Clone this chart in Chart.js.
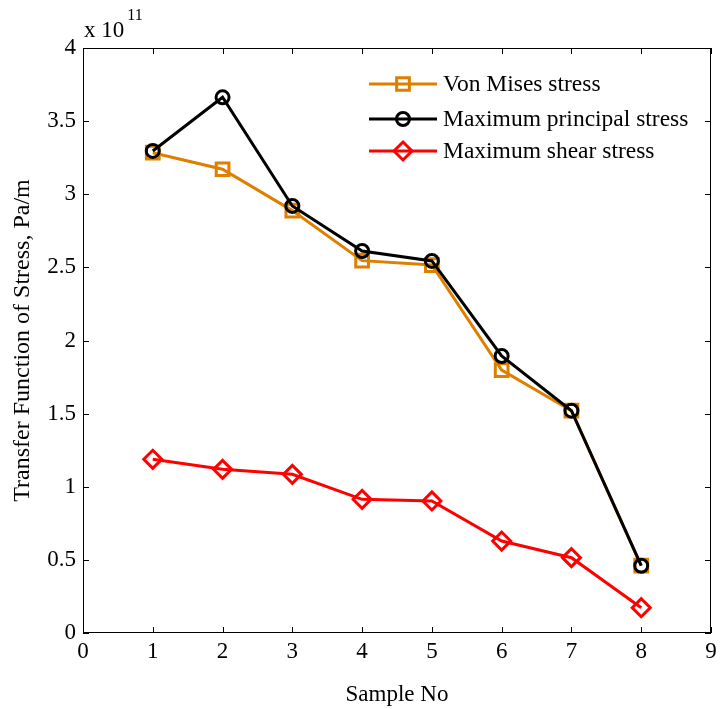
<!DOCTYPE html>
<html>
<head>
<meta charset="utf-8">
<script src="https://cdn.jsdelivr.net/npm/chart.js@4/dist/chart.umd.min.js"></script>
<style>
  html, body { margin: 0; padding: 0; background: #fff; }
  #wrap { width: 723px; height: 709px; }
</style>
</head>
<body>
<div id="wrap"><canvas id="c" width="723" height="709"></canvas></div>
<script>
// Sample numbers and transfer-function values (units of 1e11 Pa/m)
const sampleNo = [1, 2, 3, 4, 5, 6, 7, 8];
const vonMises = [3.284, 3.171, 2.888, 2.546, 2.516, 1.798, 1.52, 0.46];
const maxPrincipal = [3.296, 3.663, 2.92, 2.612, 2.544, 1.894, 1.52, 0.46];
const maxShear = [1.188, 1.119, 1.085, 0.914, 0.903, 0.629, 0.515, 0.173];

const seriesNames = ['Von Mises stress', 'Maximum principal stress', 'Maximum shear stress'];
const xTickLabels = ['0', '1', '2', '3', '4', '5', '6', '7', '8', '9'];
const yTickLabels = ['0', '0.5', '1', '1.5', '2', '2.5', '3', '3.5', '4'];

const FONT = 'Liberation Serif';
const ORANGE = '#DE7F00';

const toPoints = (ys) => sampleNo.map((x, i) => ({ x: x, y: ys[i] }));

function drawMarker(ctx, style, x, y, r, color) {
  ctx.save();
  ctx.strokeStyle = color;
  ctx.lineWidth = 3;
  ctx.beginPath();
  if (style === 'rect') {
    const h = Math.SQRT1_2 * r;
    ctx.rect(x - h, y - h, 2 * h, 2 * h);
  } else if (style === 'rectRot') {
    ctx.moveTo(x, y - r);
    ctx.lineTo(x + r, y);
    ctx.lineTo(x, y + r);
    ctx.lineTo(x - r, y);
    ctx.closePath();
  } else {
    ctx.arc(x, y, r, 0, Math.PI * 2);
  }
  ctx.stroke();
  ctx.restore();
}

// Boxed axes with inward ticks, exponent note and in-plot legend
const framePlugin = {
  id: 'frame',
  afterDraw(chart) {
    const { ctx, chartArea: a, scales } = chart;
    ctx.save();
    ctx.strokeStyle = '#000';
    ctx.lineWidth = 1;
    ctx.strokeRect(a.left + 0.5, a.top + 0.5, a.right - a.left - 1, a.bottom - a.top - 1);
    const tl = 6;
    ctx.beginPath();
    scales.x.ticks.forEach(t => {
      const px = Math.round(scales.x.getPixelForValue(t.value)) + 0.5;
      ctx.moveTo(px, a.bottom); ctx.lineTo(px, a.bottom - tl);
      ctx.moveTo(px, a.top); ctx.lineTo(px, a.top + tl);
    });
    scales.y.ticks.forEach(t => {
      const py = Math.round(scales.y.getPixelForValue(t.value)) + 0.5;
      ctx.moveTo(a.left, py); ctx.lineTo(a.left + tl, py);
      ctx.moveTo(a.right, py); ctx.lineTo(a.right - tl, py);
    });
    ctx.stroke();

    // exponent of the y scale
    ctx.fillStyle = '#000';
    ctx.textAlign = 'left';
    ctx.textBaseline = 'alphabetic';
    ctx.font = '23px "' + FONT + '"';
    const base = 'x 10';
    ctx.fillText(base, a.left + 1, 37);
    const w = ctx.measureText(base).width;
    ctx.font = '16px "' + FONT + '"';
    ctx.fillText('11', a.left + 1 + w + 3, 20);

    // legend
    const rows = [84, 119, 151];
    const lx0 = 369, lx1 = 437, mx = 403, tx = 443;
    chart.data.datasets.forEach((ds, i) => {
      const y = rows[i];
      ctx.strokeStyle = ds.borderColor;
      ctx.lineWidth = 3;
      ctx.beginPath();
      ctx.moveTo(lx0, y); ctx.lineTo(lx1, y);
      ctx.stroke();
      drawMarker(ctx, ds.pointStyle, mx, y, ds.pointRadius, ds.borderColor);
      ctx.fillStyle = '#000';
      ctx.font = '23.5px "' + FONT + '"';
      ctx.textBaseline = 'middle';
      ctx.fillText(ds.label, tx, y + 1);
    });
    ctx.restore();
  }
};

const tickFont = { family: FONT, size: 23 };
const titleFont = { family: FONT, size: 23 };

new Chart(document.getElementById('c'), {
  type: 'line',
  data: {
    datasets: [
      {
        label: seriesNames[0], data: toPoints(vonMises),
        borderColor: ORANGE, backgroundColor: 'rgba(0,0,0,0)',
        borderWidth: 3, pointStyle: 'rect', pointRadius: 9,
        pointBorderWidth: 3, pointBackgroundColor: 'rgba(0,0,0,0)', order: 2
      },
      {
        label: seriesNames[1], data: toPoints(maxPrincipal),
        borderColor: '#000000', backgroundColor: 'rgba(0,0,0,0)',
        borderWidth: 3, pointStyle: 'circle', pointRadius: 6.5,
        pointBorderWidth: 3, pointBackgroundColor: 'rgba(0,0,0,0)', order: 1
      },
      {
        label: seriesNames[2], data: toPoints(maxShear),
        borderColor: '#FF0000', backgroundColor: 'rgba(0,0,0,0)',
        borderWidth: 3, pointStyle: 'rectRot', pointRadius: 9,
        pointBorderWidth: 3, pointBackgroundColor: 'rgba(0,0,0,0)', order: 3
      }
    ]
  },
  options: {
    responsive: false,
    animation: false,
    devicePixelRatio: 1,
    layout: { padding: { top: 48, right: 10, left: 0, bottom: 0 } },
    elements: { line: { tension: 0 } },
    plugins: { legend: { display: false }, tooltip: { enabled: false } },
    scales: {
      x: {
        type: 'linear', min: 0, max: 9,
        grid: { display: false, drawTicks: false },
        border: { display: false },
        ticks: {
          stepSize: 1, autoSkip: false, maxRotation: 0, padding: 5,
          color: '#000', font: tickFont,
          callback: (v, i) => xTickLabels[i]
        },
        title: { display: true, text: 'Sample No', color: '#000', font: titleFont, padding: { top: 2, bottom: 0 } },
        afterFit: (s) => { s.height = 76; }
      },
      y: {
        type: 'linear', min: 0, max: 4,
        grid: { display: false, drawTicks: false },
        border: { display: false },
        ticks: {
          stepSize: 0.5, autoSkip: false, padding: 7,
          color: '#000', font: tickFont,
          callback: (v, i) => yTickLabels[i]
        },
        title: { display: true, text: 'Transfer Function of Stress, Pa/m', color: '#000', font: { family: FONT, size: 24 }, padding: { top: 8, bottom: 0 } },
        afterFit: (s) => { s.width = 83; }
      }
    }
  },
  plugins: [framePlugin]
});
</script>
</body>
</html>
